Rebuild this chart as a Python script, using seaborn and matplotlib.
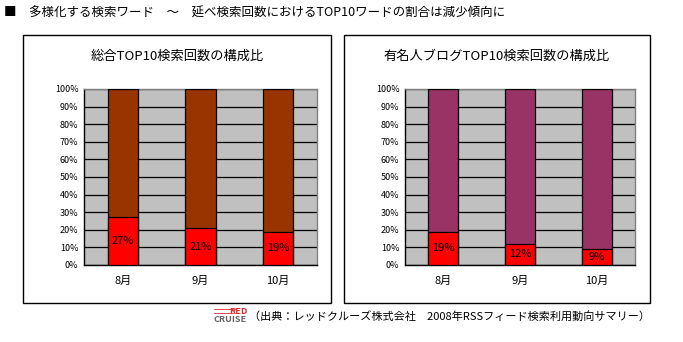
import matplotlib
matplotlib.use("Agg")
import matplotlib.pyplot as plt
from matplotlib.patches import Rectangle
import seaborn as sns
import pandas as pd

# ---- data ----
months = ["8月", "9月", "10月"]
total_share = [27, 21, 19]        # 総合TOP10
celeb_share = [19, 12, 9]         # 有名人ブログTOP10
full = [100, 100, 100]
yticks = [0, 10, 20, 30, 40, 50, 60, 70, 80, 90, 100]
ytick_labels = [f"{v}%" for v in yticks]

main_title = "■　多様化する検索ワード　～　延べ検索回数におけるTOP10ワードの割合は減少傾向に"
panel_titles = ["総合TOP10検索回数の構成比", "有名人ブログTOP10検索回数の構成比"]
source_text = "（出典：レッドクルーズ株式会社　2008年RSSフィード検索利用動向サマリー）"

sns.set_theme(style="white")
plt.rcParams["font.family"] = ["Noto Sans CJK JP", "DejaVu Sans"]
plt.rcParams["text.color"] = "black"
plt.rcParams["xtick.color"] = "black"
plt.rcParams["ytick.color"] = "black"

W, H = 683, 342
fig = plt.figure(figsize=(W / 100, H / 100), dpi=100)
fig.patch.set_facecolor("white")

def fx(px):
    return px / W

def fy(py):
    return 1 - py / H

# panel frames
for (x0, x1) in [(23, 331), (344, 650)]:
    fig.patches.append(Rectangle((fx(x0), fy(303)), fx(x1 - x0), (303 - 35) / H,
                                 transform=fig.transFigure, fill=False,
                                 edgecolor="black", linewidth=1.0, zorder=0))

panels = [
    dict(x0=84, x1=317, vals=total_share, top="#993300", title=panel_titles[0], tcx=177),
    dict(x0=405, x1=635, vals=celeb_share, top="#993366", title=panel_titles[1], tcx=497),
]

for p in panels:
    ax = fig.add_axes([fx(p["x0"]), fy(265), fx(p["x1"] - p["x0"]), 176 / H])
    ax.set_facecolor("#C0C0C0")
    df = pd.DataFrame({"month": months, "full": full, "val": p["vals"]})
    sns.barplot(data=df, x="month", y="full", color=p["top"], width=0.39,
                edgecolor="black", linewidth=0.9, saturation=1, ax=ax, zorder=3)
    sns.barplot(data=df, x="month", y="val", color="#FF0000", width=0.39,
                edgecolor="black", linewidth=0.9, saturation=1, ax=ax, zorder=4)
    for i, v in enumerate(p["vals"]):
        ax.text(i, v / 2, f"{v}%", ha="center", va="center", fontsize=8,
                color="black", zorder=5)
    ax.set_ylim(0, 100)
    ax.set_xlim(-0.5, 2.5)
    ax.set_yticks(yticks)
    ax.set_yticklabels(ytick_labels, fontsize=6.5, color="black")
    ax.yaxis.grid(True, color="black", linewidth=0.9)
    ax.set_axisbelow(True)
    ax.set_xlabel("")
    ax.set_ylabel("")
    ax.tick_params(axis="x", length=0, pad=8, labelsize=8, labelcolor="black")
    ax.tick_params(axis="y", length=0, pad=4)
    ax.set_xticks([0.5, 1.5], minor=True)
    ax.tick_params(axis="x", which="minor", length=4, direction="inout", color="black")
    for s in ["top", "right"]:
        ax.spines[s].set_color("#808080")
        ax.spines[s].set_linewidth(1.0)
    for s in ["left", "bottom"]:
        ax.spines[s].set_color("black")
        ax.spines[s].set_linewidth(1.0)
    fig.text(fx(p["tcx"]), fy(56), p["title"], ha="center", va="center",
             fontsize=9.5, color="black")

# main title
fig.text(fx(4), fy(13), main_title, ha="left", va="center", fontsize=9, color="black")

# source logo + text
fig.text(fx(247), fy(311), "RED", ha="right", va="center", fontsize=6.5,
         color="#E0282E", fontweight="bold")
fig.lines.append(plt.Line2D([fx(214), fx(233)], [fy(309), fy(309)],
                            transform=fig.transFigure, color="#E0282E", linewidth=0.6))
fig.lines.append(plt.Line2D([fx(214), fx(233)], [fy(313), fy(313)],
                            transform=fig.transFigure, color="#E0282E", linewidth=0.6))
fig.text(fx(230), fy(320), "CRUISE", ha="center", va="center", fontsize=6.5,
         color="#666666", fontweight="bold")
fig.text(fx(249), fy(316), source_text, ha="left", va="center", fontsize=8, color="black")

fig.savefig("out.png", dpi=100)
